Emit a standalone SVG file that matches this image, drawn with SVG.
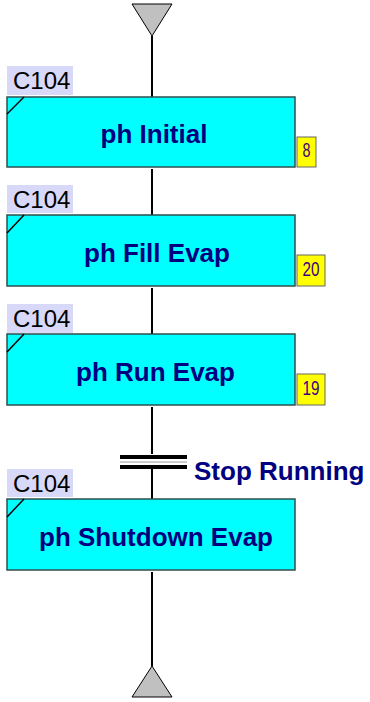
<svg xmlns="http://www.w3.org/2000/svg" width="370" height="702" viewBox="0 0 370 702">
<style>
.box{fill:#00ffff;stroke:#2f4f4f;stroke-width:1.5}
.lbl{fill:#d8d8f8}
.lt{font-family:"Liberation Sans",Arial,sans-serif;font-size:24px;fill:#000}
.st{font-family:"Liberation Sans",Arial,sans-serif;font-size:26px;font-weight:bold;fill:#000080;text-anchor:middle}
.badge{fill:#ffff00;stroke:#666;stroke-width:1}
.bt{font-family:"Liberation Sans",Arial,sans-serif;font-size:20px;fill:#400080;text-anchor:middle}
.ln{stroke:#000;stroke-width:2;fill:none}
.tri{fill:#c0c0c0;stroke:#000;stroke-width:1}
</style>
<g id="connectors">
<line class="ln" x1="152" y1="36" x2="152" y2="97"/>
<line class="ln" x1="152" y1="169" x2="152" y2="215"/>
<line class="ln" x1="152" y1="288" x2="152" y2="334"/>
<line class="ln" x1="152" y1="407" x2="152" y2="454"/>
<line class="ln" x1="152" y1="469" x2="152" y2="499"/>
<line class="ln" x1="152" y1="572" x2="152" y2="666"/>
</g>
<g id="start">
<polygon class="tri" points="132,4 172,4 152,36"/>
</g>
<g id="step1">
<rect class="lbl" x="7" y="66" width="66" height="29"/>
<text class="lt" x="13" y="89">C104</text>
<rect class="box" x="7" y="97" width="288" height="70"/>
<line x1="7" y1="114" x2="24" y2="97" stroke="#000" stroke-width="1.5"/>
<text class="st" x="154" y="142.5">ph Initial</text>
<rect class="badge" x="297" y="137" width="19" height="30"/>
<text class="bt" x="306.5" y="157" textLength="8" lengthAdjust="spacingAndGlyphs">8</text>
</g>
<g id="step2">
<rect class="lbl" x="7" y="185" width="66" height="28"/>
<text class="lt" x="13" y="208">C104</text>
<rect class="box" x="7" y="215" width="288" height="71"/>
<line x1="7" y1="233" x2="24" y2="215" stroke="#000" stroke-width="1.5"/>
<text class="st" x="157" y="261.5">ph Fill Evap</text>
<rect class="badge" x="297" y="255" width="28" height="31"/>
<text class="bt" x="311" y="276" textLength="17" lengthAdjust="spacingAndGlyphs">20</text>
</g>
<g id="step3">
<rect class="lbl" x="7" y="304" width="66" height="29"/>
<text class="lt" x="13" y="327">C104</text>
<rect class="box" x="7" y="334" width="288" height="71"/>
<line x1="7" y1="352" x2="24" y2="334" stroke="#000" stroke-width="1.5"/>
<text class="st" x="155.5" y="380.5">ph Run Evap</text>
<rect class="badge" x="297" y="374" width="28" height="31"/>
<text class="bt" x="311" y="395" textLength="17" lengthAdjust="spacingAndGlyphs">19</text>
</g>
<g id="transition">
<rect x="120" y="455" width="67" height="4" fill="#000"/>
<line x1="120" y1="462" x2="187" y2="462" stroke="#999" stroke-width="1"/>
<rect x="120" y="465" width="67" height="4" fill="#000"/>
<text x="194" y="479.5" font-family="'Liberation Sans',Arial,sans-serif" font-size="26" font-weight="bold" fill="#000080">Stop Running</text>
</g>
<g id="step4">
<rect class="lbl" x="7" y="469" width="66" height="28"/>
<text class="lt" x="13" y="492">C104</text>
<rect class="box" x="7" y="499" width="288" height="71"/>
<line x1="7" y1="517" x2="24" y2="499" stroke="#000" stroke-width="1.5"/>
<text class="st" x="156" y="546">ph Shutdown Evap</text>
</g>
<g id="end">
<polygon class="tri" points="152,666 172,697 132,697"/>
</g>
</svg>
